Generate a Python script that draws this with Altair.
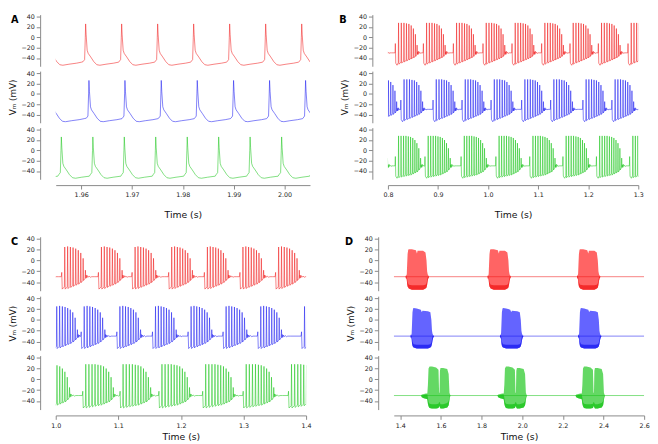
import altair as alt
import pandas as pd

FONT = "DejaVu Sans"
RED, BLUE, GREEN = "#f01818", "#1818f0", "#18c418"
RED_L, BLUE_L, GREEN_L = "#ff5c5c", "#5c5cff", "#5cd65c"

YDOM = [-56, 44]
YVALS = [-40, -20, 0, 20, 40]

# ---------------- Panel A : single spikes ----------------
A_DOM = [1.955, 2.005]
A_TICKS = [1.96, 1.97, 1.98, 1.99, 2.00]
A_RED_SPIKES = [1.9536, 1.96088, 1.96796, 1.97504, 1.98212, 1.98920, 1.99628, 2.00337, 2.0105]
A_BLUE_SPIKES = [1.9541, 1.96153, 1.96861, 1.97575, 1.98283, 1.98997, 1.99705, 2.00413, 2.0112]
A_GREEN_SPIKES = [1.9499, 1.95610, 1.96230, 1.96848, 1.97466, 1.98086, 1.98704, 1.99322, 1.99942, 2.0056]
A_WAVE_T = [-0.5, -0.2, -0.07, 0.0, 0.1, 0.3, 0.5, 1.0, 1.6, 2.2, 2.8, 4.0, 5.5, 6.5]
A_WAVE_V = [-47, -43, 0, 26, 5, -25, -31, -38, -47, -53, -54, -52, -50, -48]

# ---------------- Panel B : bursts ----------------
B_DOM = [0.8, 1.3]
B_TICKS = [0.8, 0.9, 1.0, 1.1, 1.2, 1.3]
B_RED_ONSETS = [0.7580, 0.8212, 0.8772, 0.9371, 0.9963, 1.0542, 1.1134, 1.1700, 1.2266, 1.2859]
B_BLUE_ONSETS = [0.7804, 0.8322, 0.8965, 0.9544, 1.0124, 1.0735, 1.1314, 1.1958, 1.2537, 1.3120]
B_GREEN_ONSETS = [0.7550, 0.8212, 0.8804, 0.9525, 1.0220, 1.0896, 1.1559, 1.2228, 1.2891]
B_PRE = [(-7.0, -30), (-6.4, -12), (-5.6, -50), (-3.0, -54), (-0.6, -49)]
B_SPK = [0, 5.5, 10.8, 15.8, 20.6, 25.2, 29.6, 33.6, 37.0]
B_PEAK = [28, 28, 28, 27, 26, 23, 17, 6, -15]
B_TROUGH = [-52, -50, -48, -46, -44, -42, -40, -37, -33]
B_BASE = [-48, -46, -44, -42, -40, -38, -36, -33, -30]
B_POST = [(1.2, -28), (2.2, -33), (3.2, -27), (4.2, -31), (5.5, -29), (7, -31), (9, -30), (12, -30), (40, -30)]
BG_SPK = [0, 5, 10, 14.8, 19.5, 24, 28.4, 32.6, 36.6, 40.4, 44]
BG_PEAK = [28, 28, 28, 28, 27, 26, 24, 20, 14, 4, -15]
BG_TROUGH = [-53, -52, -51, -50, -49, -48, -46, -44, -42, -38, -33]
BG_BASE = [-49, -48, -47, -46, -45, -44, -42, -40, -38, -34, -30]

# ---------------- Panel C : bursts ----------------
C_DOM = [1.0, 1.4]
C_TICKS = [1.0, 1.1, 1.2, 1.3, 1.4]
C_RED_ONSETS = [0.9574, 1.0144, 1.0730, 1.1268, 1.1853, 1.2423, 1.2991, 1.3561, 1.4131]
C_BLUE_ONSETS = [0.9446, 1.0016, 1.0455, 1.1025, 1.1594, 1.2163, 1.2722, 1.3276, 1.3975]
C_GREEN_ONSETS = [0.9780, 1.0480, 1.1076, 1.1697, 1.2396, 1.3043, 1.3767, 1.4400]
C_PRE = [(-5.5, -30), (-4.8, -22), (-4.0, -53), (-0.6, -49)]
C_SPK = [0, 4.6, 9.0, 13.3, 17.5, 21.6, 25.6, 29.4, 33.0]
C_PEAK = [25, 26, 25, 24, 22, 19, 14, 4, -18]
C_TROUGH = [-53, -52, -50, -48, -46, -44, -41, -37, -33]
C_BASE = [-49, -48, -46, -44, -42, -40, -37, -33, -30]
C_POST = [(1.2, -27), (2.2, -32), (3.2, -28), (4.5, -31), (6, -29), (8, -31), (10, -30), (14, -30), (40, -30)]

# ---------------- Panel D : long bursts (envelopes) ----------------
D_DOM = [1.368, 2.6]
D_TICKS = [1.4, 1.6, 1.8, 2.0, 2.2, 2.4, 2.6]
D_RED_STARTS = [1.432, 1.835, 2.275]
D_BLUE_STARTS = [1.456, 1.896, 2.280]
D_GREEN_STARTS = [1.536, 1.912, 2.296]
D_RB_T = [-6, -3, -1, 0, 2, 4, 7, 10, 25, 45, 50, 53, 80, 92, 97, 100, 103, 106, 110]
D_RED_UP = [-30, -26, -29, -24, -5, 12, 20, 21, 21, 19, 13, 18, 18, 15, 0, -20, -26, -28, -30]
D_RED_LO = [-30, -35, -31, -36, -44, -48, -50, -52, -54, -54, -54, -54, -54, -52, -50, -45, -37, -33, -30]
D_RED_DK = [-30, -28, -30, -30, -35, -40, -43, -45, -46, -46, -46, -46, -46, -45, -42, -36, -30, -30, -30]
D_BLUE_UP = [-30, -26, -29, -24, -5, 14, 21, 22, 21, 19, 14, 17, 16, 14, 0, -20, -26, -28, -30]
D_BLUE_LO = [-30, -35, -31, -36, -44, -48, -50, -51, -53, -53, -53, -53, -53, -51, -49, -44, -37, -33, -30]
D_G_T = [-34, -30, -20, -10, -3, 0, 3, 8, 20, 40, 52, 55, 57, 59, 62, 75, 95, 102, 106, 108, 111]
D_GREEN_UP = [-30, -28, -27, -26, -26, -10, 20, 24, 24, 22, 18, -25, -25, 16, 21, 21, 19, 10, -25, -27, -30]
D_GREEN_LO = [-30, -33, -35, -36, -37, -45, -50, -53, -54, -54, -53, -50, -50, -52, -54, -54, -52, -48, -38, -33, -30]
D_GREEN_DK = [-30, -30, -29, -28, -28, -34, -42, -45, -46, -46, -45, -42, -42, -44, -46, -46, -44, -40, -33, -30, -30]
D_BASELINE = -30


def spike_train(times, wt, wv):
    rows = []
    for k, t0 in enumerate(times):
        lim = times[k + 1] + wt[0] / 1000 if k + 1 < len(times) else t0 + 1
        for dt, v in zip(wt, wv):
            t = t0 + dt / 1000
            if t < lim:
                rows.append((t, v))
    return pd.DataFrame(rows, columns=["t", "v"])


def burst_train(onsets, pre, spk, peak, trough, base, post):
    rows = []
    for k, on in enumerate(onsets):
        seg = list(pre)
        for i in range(len(spk)):
            seg.append((spk[i], peak[i]))
            seg.append((spk[i] + 0.7, trough[i]))
            if i + 1 < len(spk):
                seg.append((spk[i + 1] - 0.6, base[i]))
        seg += [(spk[-1] + dt, v) for dt, v in post]
        lim = onsets[k + 1] + pre[0][0] / 1000 if k + 1 < len(onsets) else on + 1
        for dt, v in seg:
            t = on + dt / 1000
            if t < lim:
                rows.append((t, v))
    return pd.DataFrame(rows, columns=["t", "v"])


def envelope(starts, tt, up, lo):
    rows = []
    for k, s in enumerate(starts):
        for dt, u, l in zip(tt, up, lo):
            rows.append((k, s + dt / 1000, u, l))
    return pd.DataFrame(rows, columns=["b", "t", "up", "lo"])


def yenc(field, title):
    ax = dict(values=YVALS, offset=16, tickSize=4, labelFontSize=6.5, labelFont=FONT,
              labelColor="#222", domainColor="#888", tickColor="#888", grid=False, labelPadding=2)
    if title:
        axis = alt.Axis(title=title, titleFont=FONT, titleFontSize=9, titleFontWeight="normal",
                        titlePadding=4, titleColor="#111", **ax)
    else:
        axis = alt.Axis(title=None, **ax)
    return alt.Y(f"{field}:Q", scale=alt.Scale(domain=YDOM, nice=False, zero=False), axis=axis)


def xenc(dom, ticks, fmt, show, tpad):
    sc = alt.Scale(domain=dom, nice=False, zero=False)
    if not show:
        return alt.X("t:Q", scale=sc, axis=None)
    return alt.X("t:Q", scale=sc, axis=alt.Axis(
        values=ticks, format=fmt, offset=6, tickSize=4, labelFontSize=6.5, labelFont=FONT,
        labelColor="#222", domainColor="#888", tickColor="#888", grid=False, labelPadding=3,
        labelFlush=False, title="Time (s)", titleFont=FONT, titleFontSize=9.5,
        titleFontWeight="normal", titlePadding=tpad, titleColor="#111"))


def subplot(width, height, dom, ticks, fmt, show_x, tpad, ytitle, lines=(), areas=(), label=None):
    layers = []
    xe = xenc(dom, ticks, fmt, show_x, tpad)
    for df, col, op in areas:
        layers.append(alt.Chart(df).mark_area(color=col, opacity=op, clip=True, strokeWidth=0).encode(
            x=xe, y=yenc("up", ytitle), y2="lo:Q", detail="b:N"))
    for df, col in lines:
        layers.append(alt.Chart(df).mark_line(color=col, strokeWidth=0.55, clip=True).encode(
            x=xe, y=yenc("v", ytitle)))
    if label is not None:
        txt, lx, ly = label
        layers.append(alt.Chart(pd.DataFrame({"s": [txt]})).mark_text(
            align="left", baseline="middle", font=FONT, fontSize=10, fontWeight="bold", color="#000"
        ).encode(x=alt.value(lx), y=alt.value(ly), text="s:N"))
    return alt.layer(*layers).properties(width=width, height=height)


def panel(width, height, tpad, dom, ticks, fmt, traces, label):
    subs = []
    for i, tr in enumerate(traces):
        subs.append(subplot(width, height, dom, ticks, fmt, i == 2, tpad, "Vₘ (mV)" if i == 1 else None,
                            lines=tr.get("lines", ()), areas=tr.get("areas", ()),
                            label=label if i == 0 else None))
    return alt.vconcat(*subs, spacing=4)


HT, HB = 53, 55.4
PT, PB = 11.5, 3

pA = panel(261, HT, PT, A_DOM, A_TICKS, ".2f", [
    {"lines": [(spike_train(A_RED_SPIKES, A_WAVE_T, A_WAVE_V), RED)]},
    {"lines": [(spike_train(A_BLUE_SPIKES, A_WAVE_T, A_WAVE_V), BLUE)]},
    {"lines": [(spike_train(A_GREEN_SPIKES, A_WAVE_T, A_WAVE_V), GREEN)]},
], ("A", -46, 6))

pB = panel(257, HT, PT, B_DOM, B_TICKS, ".1f", [
    {"lines": [(burst_train(B_RED_ONSETS, B_PRE, B_SPK, B_PEAK, B_TROUGH, B_BASE, B_POST), RED)]},
    {"lines": [(burst_train(B_BLUE_ONSETS, B_PRE, B_SPK, B_PEAK, B_TROUGH, B_BASE, B_POST), BLUE)]},
    {"lines": [(burst_train(B_GREEN_ONSETS, B_PRE, BG_SPK, BG_PEAK, BG_TROUGH, BG_BASE, B_POST), GREEN)]},
], ("B", -50, 6))

pC = panel(257, HB, PB, C_DOM, C_TICKS, ".1f", [
    {"lines": [(burst_train(C_RED_ONSETS, C_PRE, C_SPK, C_PEAK, C_TROUGH, C_BASE, C_POST), RED)]},
    {"lines": [(burst_train(C_BLUE_ONSETS, C_PRE, C_SPK, C_PEAK, C_TROUGH, C_BASE, C_POST), BLUE)]},
    {"lines": [(burst_train(C_GREEN_ONSETS, C_PRE, BG_SPK, BG_PEAK, BG_TROUGH, BG_BASE, C_POST), GREEN)]},
], ("C", -46, 5))


def dtrace(starts, tt, up, lo, dk, col, light):
    base = pd.DataFrame({"t": [D_DOM[0], D_DOM[1]], "v": [D_BASELINE, D_BASELINE]})
    return {"lines": [(base, col)],
            "areas": [(envelope(starts, tt, up, lo), light, 0.95),
                      (envelope(starts, tt, dk, lo), col, 0.75)]}


pD = panel(257, HB, PB, D_DOM, D_TICKS, ".1f", [
    dtrace(D_RED_STARTS, D_RB_T, D_RED_UP, D_RED_LO, D_RED_DK, RED, RED_L),
    dtrace(D_BLUE_STARTS, D_RB_T, D_BLUE_UP, D_BLUE_LO, D_RED_DK, BLUE, BLUE_L),
    dtrace(D_GREEN_STARTS, D_G_T, D_GREEN_UP, D_GREEN_LO, D_GREEN_DK, GREEN, GREEN_L),
], ("D", -50, 5))

top = alt.hconcat(pA, pB, spacing=30)
bottom = alt.hconcat(pC, pD, spacing=34)
chart = alt.vconcat(top, bottom, spacing=17).properties(padding=0).configure_view(strokeWidth=0)

chart.save("out.html", embed_options={"renderer": "svg", "actions": False})
